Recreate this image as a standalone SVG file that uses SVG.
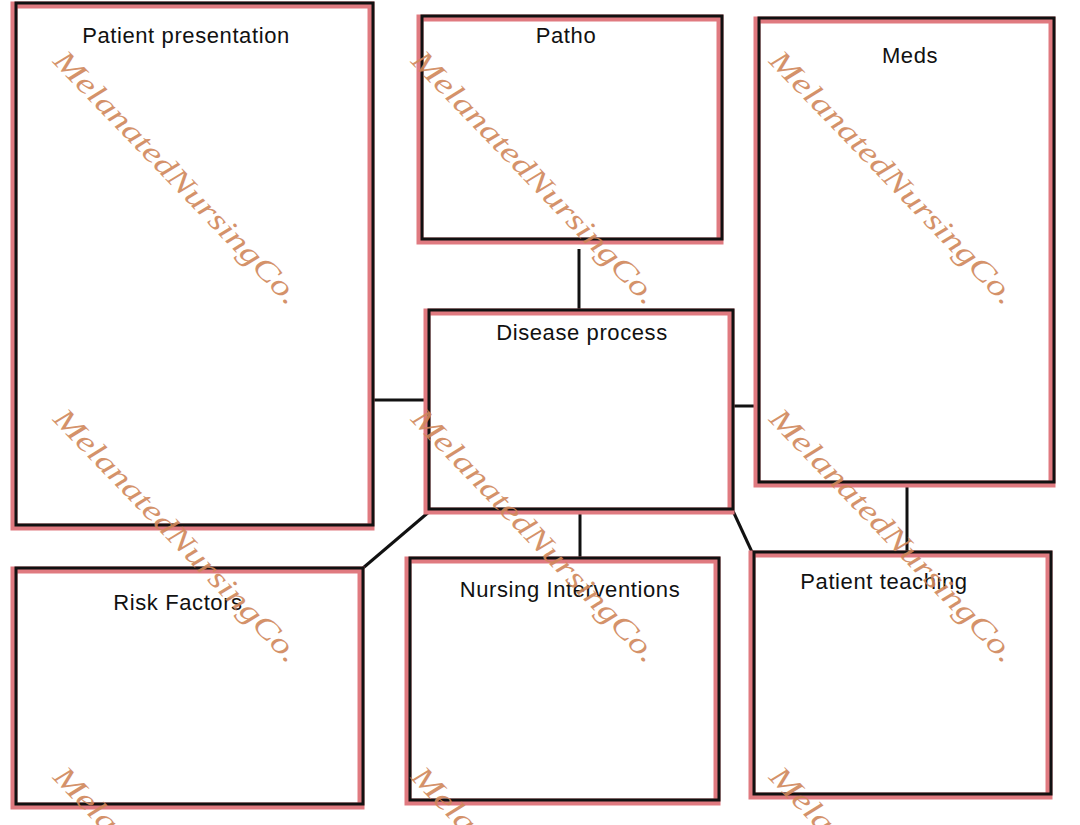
<svg xmlns="http://www.w3.org/2000/svg" width="1080" height="825" viewBox="0 0 1080 825">
<style>
.r{fill:none;stroke:#e07a80;stroke-width:7}
.b{fill:none;stroke:#111;stroke-width:3}
.t{font-family:"Liberation Sans",Arial,sans-serif;font-size:22px;letter-spacing:0.6px;fill:#111;text-anchor:middle}
.w{font-family:"Liberation Serif","DejaVu Serif",serif;font-style:italic;font-size:30px;fill:#d0875a;opacity:0.9}
.c{stroke:#111;stroke-width:3;fill:none}
</style>
<rect width="1080" height="825" fill="#fff"/>
<g id="connectors">
<line class="c" x1="579" y1="249" x2="579" y2="310"/>
<line class="c" x1="373" y1="400" x2="427" y2="400"/>
<line class="c" x1="733" y1="406" x2="757" y2="406"/>
<line class="c" x1="907" y1="486" x2="907" y2="552"/>
<line class="c" x1="430" y1="511" x2="363" y2="568"/>
<line class="c" x1="580" y1="511" x2="580" y2="558"/>
<line class="c" x1="733" y1="511" x2="752" y2="552"/>
</g>
<g id="patient-presentation"><rect class="r" x="14" y="5" width="357" height="522"/><rect class="b" x="16" y="3" width="357" height="522"/><text class="t" x="186" y="43">Patient presentation</text></g>
<g id="patho"><rect class="r" x="420" y="18" width="300" height="223"/><rect class="b" x="422" y="16" width="300" height="223"/><text class="t" x="566" y="43">Patho</text></g>
<g id="meds"><rect class="r" x="757" y="20" width="295" height="464"/><rect class="b" x="759" y="18" width="295" height="464"/><text class="t" x="910" y="63">Meds</text></g>
<g id="disease-process"><rect class="r" x="427" y="312" width="304" height="199"/><rect class="b" x="429" y="310" width="304" height="199"/><text class="t" x="582" y="340">Disease process</text></g>
<g id="risk-factors"><rect class="r" x="14" y="570" width="347" height="236"/><rect class="b" x="16" y="568" width="347" height="236"/><text class="t" x="178" y="610">Risk Factors</text></g>
<g id="nursing-interventions"><rect class="r" x="408" y="560" width="309" height="242"/><rect class="b" x="410" y="558" width="309" height="242"/><text class="t" x="570" y="597">Nursing Interventions</text></g>
<g id="patient-teaching"><rect class="r" x="752" y="554" width="297" height="242"/><rect class="b" x="754" y="552" width="297" height="242"/><text class="t" x="884" y="589">Patient teaching</text></g>
<g id="watermarks">
<text class="w" transform="translate(52,62) rotate(46)" textLength="340" lengthAdjust="spacingAndGlyphs">MelanatedNursingCo.</text>
<text class="w" transform="translate(410,62) rotate(46)" textLength="340" lengthAdjust="spacingAndGlyphs">MelanatedNursingCo.</text>
<text class="w" transform="translate(768,62) rotate(46)" textLength="340" lengthAdjust="spacingAndGlyphs">MelanatedNursingCo.</text>
<text class="w" transform="translate(52,420) rotate(46)" textLength="340" lengthAdjust="spacingAndGlyphs">MelanatedNursingCo.</text>
<text class="w" transform="translate(410,420) rotate(46)" textLength="340" lengthAdjust="spacingAndGlyphs">MelanatedNursingCo.</text>
<text class="w" transform="translate(768,420) rotate(46)" textLength="340" lengthAdjust="spacingAndGlyphs">MelanatedNursingCo.</text>
<text class="w" transform="translate(52,778) rotate(46)" textLength="340" lengthAdjust="spacingAndGlyphs">MelanatedNursingCo.</text>
<text class="w" transform="translate(410,778) rotate(46)" textLength="340" lengthAdjust="spacingAndGlyphs">MelanatedNursingCo.</text>
<text class="w" transform="translate(768,778) rotate(46)" textLength="340" lengthAdjust="spacingAndGlyphs">MelanatedNursingCo.</text>
</g>
</svg>
